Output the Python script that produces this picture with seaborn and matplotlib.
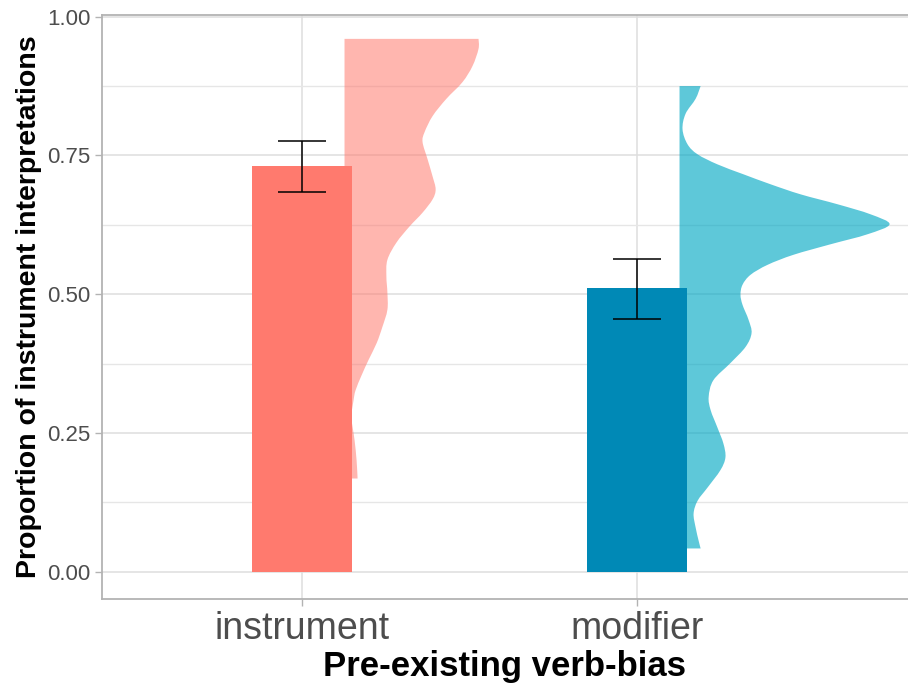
import matplotlib
matplotlib.use("Agg")
import matplotlib.pyplot as plt
from matplotlib.path import Path
from matplotlib.patches import PathPatch
import seaborn as sns
import pandas as pd
import numpy as np

# ---- data ----
categories = ["instrument", "modifier"]
means = [0.731, 0.511]
err_low = [0.684, 0.455]
err_high = [0.776, 0.563]

# half-violin outlines: y values and half-widths (x-axis units)
inst_violin_y = [0.960, 0.942, 0.911, 0.882, 0.852, 0.821, 0.792, 0.774, 0.743, 0.712,
                 0.689, 0.671, 0.647, 0.622, 0.593, 0.562, 0.532, 0.503, 0.472, 0.441,
                 0.412, 0.382, 0.354, 0.327, 0.309, 0.278, 0.237, 0.201, 0.168]
inst_violin_w = [0.400, 0.400, 0.382, 0.352, 0.304, 0.263, 0.239, 0.233, 0.248, 0.263,
                 0.272, 0.263, 0.233, 0.194, 0.155, 0.128, 0.125, 0.128, 0.128, 0.113,
                 0.096, 0.072, 0.051, 0.033, 0.027, 0.021, 0.030, 0.036, 0.039]
mod_violin_y = [0.875, 0.852, 0.825, 0.797, 0.770, 0.752, 0.734, 0.716, 0.698, 0.680,
                0.662, 0.644, 0.626, 0.608, 0.590, 0.571, 0.553, 0.535, 0.517, 0.499,
                0.481, 0.454, 0.430, 0.405, 0.376, 0.345, 0.315, 0.291, 0.260, 0.231,
                0.206, 0.183, 0.152, 0.128, 0.105, 0.080, 0.056, 0.042]
mod_violin_w = [0.063, 0.048, 0.018, 0.009, 0.024, 0.054, 0.113, 0.191, 0.272, 0.361,
                0.472, 0.570, 0.627, 0.561, 0.451, 0.340, 0.263, 0.212, 0.188, 0.182,
                0.188, 0.206, 0.215, 0.197, 0.152, 0.101, 0.087, 0.093, 0.113, 0.131,
                0.137, 0.122, 0.084, 0.054, 0.042, 0.048, 0.057, 0.063]

y_ticks = [0.00, 0.25, 0.50, 0.75, 1.00]
y_ticklabels = ["0.00", "0.25", "0.50", "0.75", "1.00"]
x_label = "Pre-existing verb-bias"
y_label = "Proportion of instrument interpretations"

# ---- styling ----
bar_colors = ["#FF7A6E", "#0089B6"]
violin_colors = ["#FF7A6E", "#00A8C4"]
violin_alphas = [0.55, 0.63]
violin_offset = 0.127

sns.set_theme(style="white")
plt.rcParams["font.family"] = ["Liberation Sans", "DejaVu Sans"]

fig = plt.figure(figsize=(9.08, 6.88), dpi=100)
ax = fig.add_axes([0.1123, 0.1294, 0.8877, 0.8488])

df = pd.DataFrame({"bias": categories, "prop": means})
sns.barplot(data=df, x="bias", y="prop", hue="bias", palette=bar_colors,
            width=0.3, order=categories, legend=False, ax=ax, zorder=3,
            saturation=1, errorbar=None, linewidth=0, edgecolor="none")


def smooth_half_violin_path(base, ys, ws):
    """Closed path: straight base line, outline drawn as a Catmull-Rom
    curve passing through the read points (drawing style only)."""
    pts = np.column_stack([base + np.asarray(ws), np.asarray(ys)])
    verts = [(base, pts[0, 1]), tuple(pts[0])]
    codes = [Path.MOVETO, Path.LINETO]
    n = len(pts)
    for k in range(n - 1):
        p0 = pts[k - 1] if k > 0 else pts[k]
        p1 = pts[k]
        p2 = pts[k + 1]
        p3 = pts[k + 2] if k + 2 < n else pts[k + 1]
        c1 = p1 + (p2 - p0) / 6.0
        c2 = p2 - (p3 - p1) / 6.0
        verts += [tuple(c1), tuple(c2), tuple(p2)]
        codes += [Path.CURVE4] * 3
    verts += [(base, pts[-1, 1]), (base, pts[0, 1])]
    codes += [Path.LINETO, Path.CLOSEPOLY]
    return Path(verts, codes)


for i, (vy, vw) in enumerate([(inst_violin_y, inst_violin_w),
                               (mod_violin_y, mod_violin_w)]):
    path = smooth_half_violin_path(i + violin_offset, vy, vw)
    ax.add_patch(PathPatch(path, facecolor=violin_colors[i], alpha=violin_alphas[i],
                           linewidth=0, zorder=2))

xs = np.arange(len(categories))
m = np.array(means)
yerr = np.vstack([m - np.array(err_low), np.array(err_high) - m])
ax.errorbar(xs, m, yerr=yerr, fmt="none", ecolor="black", elinewidth=1.1,
            capsize=17, capthick=1.1, zorder=4)

ax.set_xlim(-0.597, 1.809)
ax.set_ylim(-0.049, 1.003)
ax.set_yticks(y_ticks)
ax.set_yticklabels(y_ticklabels)
ax.set_yticks([0.125, 0.375, 0.625, 0.875], minor=True)

ax.grid(True, which="major", color="#DEDEDE", linewidth=1.1, zorder=0)
ax.grid(True, which="minor", axis="y", color="#E6E6E6", linewidth=1.0, zorder=0)
ax.set_axisbelow(True)

for s in ["left", "top", "bottom"]:
    ax.spines[s].set_color("#B3B3B3")
    ax.spines[s].set_linewidth(1.3)
ax.spines["right"].set_visible(False)

ax.tick_params(axis="both", which="major", length=5, width=1.0, color="#B3B3B3",
               labelcolor="#4D4D4D", direction="out", bottom=True, left=True)
ax.tick_params(axis="y", which="major", labelsize=16, pad=3)
ax.tick_params(axis="x", which="major", labelsize=27, pad=4)
ax.tick_params(axis="y", which="minor", length=0)

ax.set_xlabel(x_label, fontsize=25, fontweight="bold", color="black", labelpad=2)
ax.set_ylabel(y_label, fontsize=20.5, fontweight="bold", color="black", labelpad=4)

fig.savefig("out.png", dpi=100)
